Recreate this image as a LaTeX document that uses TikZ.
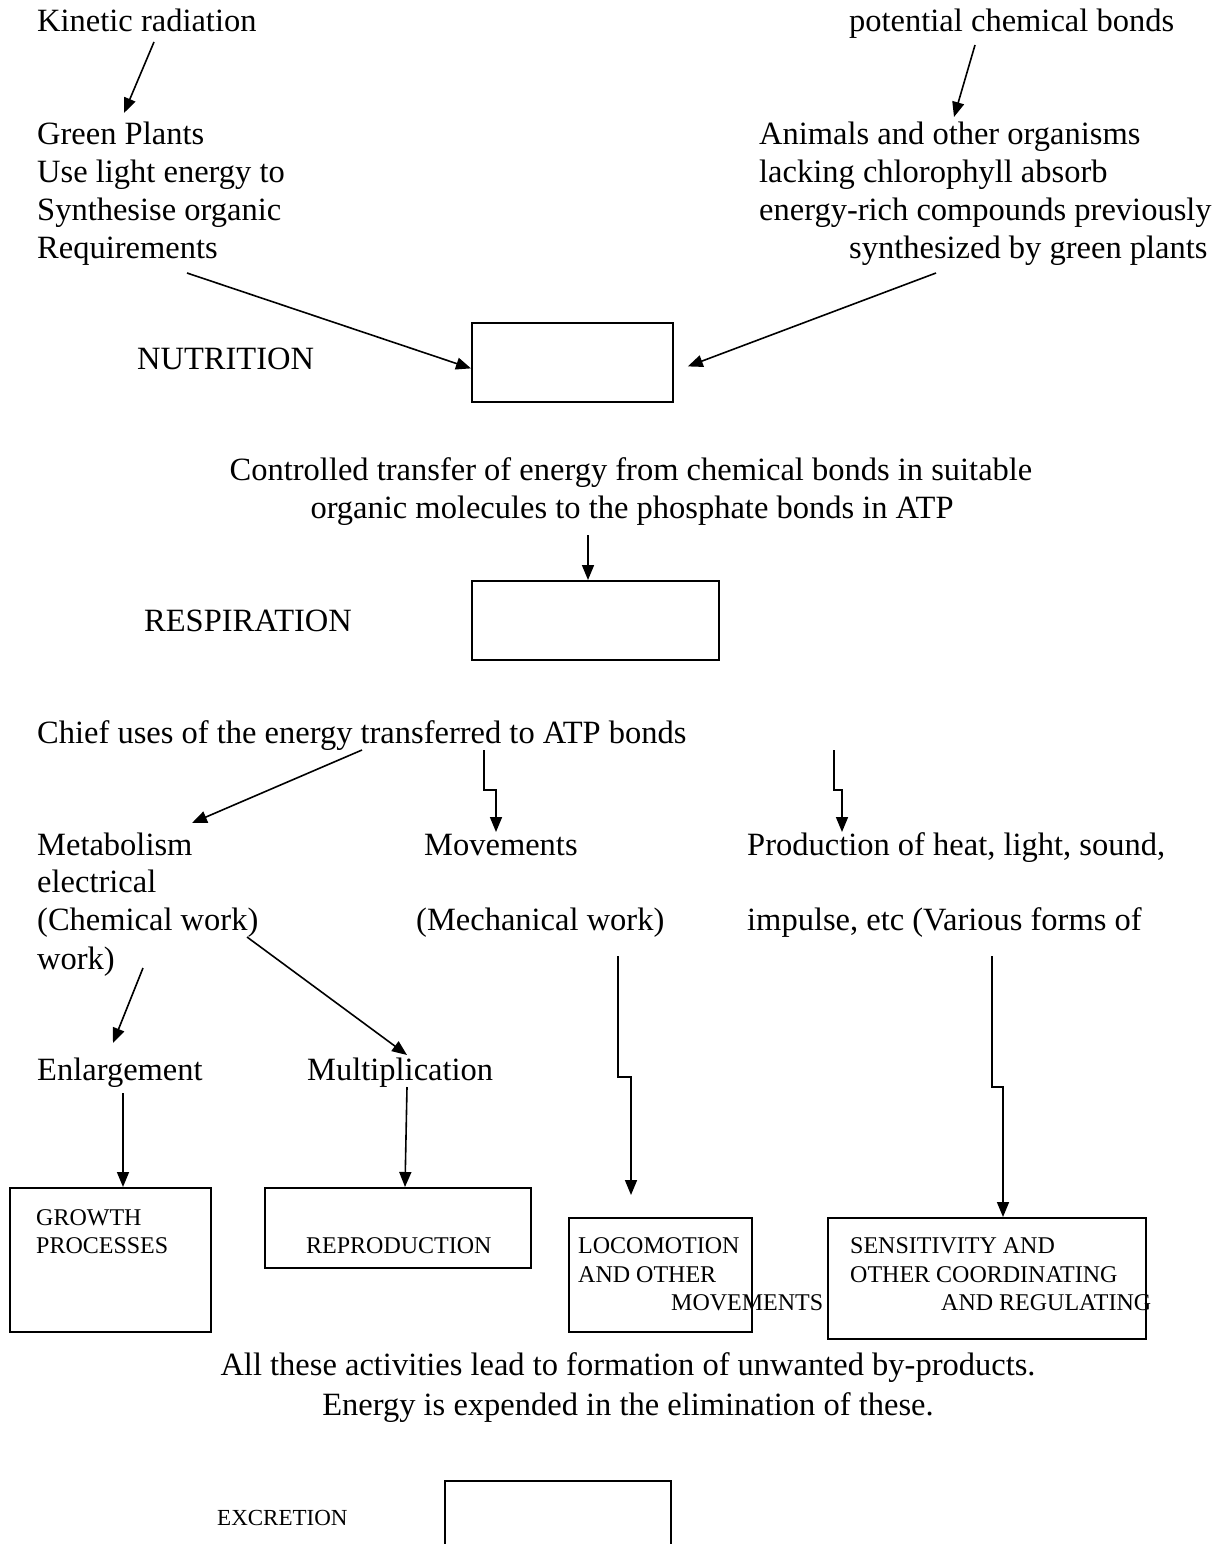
\documentclass[tikz,border=0pt]{standalone}
\usepackage{fontspec}
\setmainfont{Liberation Serif}
\usetikzlibrary{arrows.meta}
\begin{document}
\begin{tikzpicture}[x=1pt,y=-1pt,
  txt/.style={anchor=base west,inner sep=0pt,font=\fontsize{32.5}{38}\selectfont},
  ctxt/.style={anchor=base,inner sep=0pt,font=\fontsize{32.5}{38}\selectfont},
  small/.style={anchor=base west,inner sep=0pt,font=\fontsize{24}{28}\selectfont},
  box/.style={draw,line width=1.8pt,inner sep=0pt,anchor=north west},
  conn/.style={line width=1.6pt,-{Triangle[length=15pt,width=12pt]}},
  plain/.style={line width=1.6pt}]
\useasboundingbox (0,0) rectangle (1224,1544);
% ---------- texts ----------
\node[txt] (kr) at (37,32) {Kinetic radiation};
\node[txt] (pcb) at (849,32) {potential chemical bonds};
\node[txt] (gp1) at (37,144) {Green Plants};
\node[txt] (gp2) at (37,182) {Use light energy to};
\node[txt] (gp3) at (37,220) {Synthesise organic};
\node[txt] (gp4) at (37,258) {Requirements};
\node[txt] (an1) at (759,144) {Animals and other organisms};
\node[txt] (an2) at (759,182) {lacking chlorophyll absorb};
\node[txt] (an3) at (759,220) {energy-rich compounds previously};
\node[txt] (an4) at (849,258) {synthesized by green plants};
\node[txt] (nutl) at (137,369) {NUTRITION};
\node[ctxt] (ctl1) at (631,480) {Controlled transfer of energy from chemical bonds in suitable};
\node[ctxt] (ctl2) at (632,518) {organic molecules to the phosphate bonds in ATP};
\node[txt] (resl) at (144,631) {RESPIRATION};
\node[txt] (chief) at (37,743) {Chief uses of the energy transferred to ATP bonds};
\node[txt] (met) at (37,855) {Metabolism};
\node[txt] (mov) at (424,855) {Movements};
\node[txt] (prod) at (747,855) {Production of heat, light, sound,};
\node[txt] (elec) at (37,892) {electrical};
\node[txt] (chem) at (37,930) {(Chemical work)};
\node[txt] (mech) at (416,930) {(Mechanical work)};
\node[txt] (imp) at (747,930) {impulse, etc (Various forms of};
\node[txt] (work) at (37,969) {work)};
\node[txt] (enl) at (37,1080) {Enlargement};
\node[txt] (mul) at (307,1080) {Multiplication};
\node[ctxt] (all1) at (628,1375) {All these activities lead to formation of unwanted by-products.};
\node[ctxt] (all2) at (628,1415) {Energy is expended in the elimination of these.};
\node[small,font=\fontsize{23}{28}\selectfont] (excl) at (217,1525) {EXCRETION};
% ---------- boxes ----------
\node[box,minimum width=201pt,minimum height=79pt] (nut) at (471,322) {};
\node[box,minimum width=247pt,minimum height=79pt] (res) at (471,580) {};
\node[box,minimum width=201pt,minimum height=144pt] (grow) at (9,1187) {};
\node[box,minimum width=266pt,minimum height=80pt] (repro) at (264,1187) {};
\node[box,minimum width=183pt,minimum height=114pt] (loco) at (568,1217) {};
\node[box,minimum width=318pt,minimum height=121pt] (sens) at (827,1217) {};
\draw[line width=1.8pt] (445,1560) coordinate (ex1) -- (445,1481) coordinate (ex2) -- (671,1481) coordinate (ex3) -- (671,1560) coordinate (ex4);
% ---------- box texts ----------
\node[small] (g1) at (36,1225) {GROWTH};
\node[small] (g2) at (36,1253) {PROCESSES};
\node[small] (r1) at (306,1253) {REPRODUCTION};
\node[small] (l1) at (578,1253) {LOCOMOTION};
\node[small] (l2) at (578,1282) {AND OTHER};
\node[small] (l3) at (671,1310) {MOVEMENTS};
\node[small] (s1) at (850,1253) {SENSITIVITY AND};
\node[small] (s2) at (850,1282) {OTHER COORDINATING};
\node[small] (s3) at (941,1310) {AND REGULATING};
% ---------- connector ends ----------
\coordinate (kr-o) at (154,42);  \coordinate (gp-i) at (124,113);
\coordinate (pcb-o) at (975,45); \coordinate (an-i) at (954,117);
\coordinate (gp-o) at (187,273); \coordinate (an-o) at (936,273);
\coordinate (ctl-o) at (588,535);
\coordinate (chief-o) at (362,750); \coordinate (met-i) at (192,823);
\coordinate (chief-o2) at (484,750); \coordinate (mov-i) at (496,832);
\coordinate (chief-o3) at (834,750); \coordinate (prod-i) at (842,832);
\coordinate (work-o) at (143,968); \coordinate (enl-i) at (113,1043);
\coordinate (chem-o) at (247,937); \coordinate (mul-i) at (407,1055);
\coordinate (enl-o) at (123,1093);
\coordinate (mul-o) at (407,1087);
\coordinate (mech-o) at (618,956); \coordinate (loco-i) at (631,1195);
\coordinate (imp-o) at (992,956);
% ---------- connectors ----------
\draw[conn] (kr-o) -- (gp-i);
\draw[conn] (pcb-o) -- (an-i);
\draw[conn] (gp-o) -- ([yshift=-6pt]nut.west);
\draw[conn] (an-o) -- ([xshift=14pt,yshift=-4pt]nut.east);
\draw[conn] (ctl-o) -- (ctl-o |- res.north);
\draw[conn] (chief-o) -- (met-i);
\draw[conn] (chief-o2) -- ++(0,40) -- ++(12,0) -- (mov-i);
\draw[conn] (chief-o3) -- ++(0,40) -- ++(8,0) -- (prod-i);
\draw[conn] (work-o) -- (enl-i);
\draw[conn] (chem-o) -- (mul-i);
\draw[conn] (enl-o) -- (enl-o |- grow.north);
\draw[conn] (mul-o) -- ([xshift=-2pt]mul-o |- repro.north);
\draw[conn] (mech-o) -- ++(0,121) -- ++(13,0) -- (loco-i);
\draw[conn] (imp-o) -- ++(0,131) -- ++(11,0) -- ([xshift=11pt]imp-o |- sens.north);
\end{tikzpicture}
\end{document}
